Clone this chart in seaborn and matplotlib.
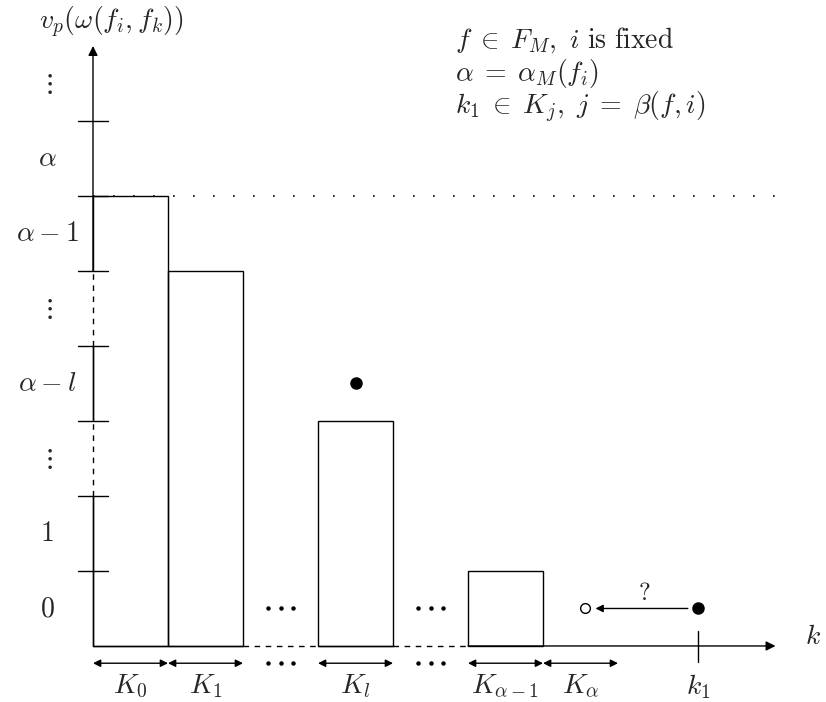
import matplotlib
matplotlib.use("Agg")
import matplotlib.pyplot as plt
import seaborn as sns
import pandas as pd

# bars: block centres (in units of one block) and valuation levels
bar_x = [0.5, 1.5, 3.5, 5.5]
bar_h = [6, 5, 3, 1]

# y axis level labels (placed between tick marks)
level_pos = [0.5, 1.5, 2.5, 3.5, 4.5, 5.5, 6.5, 7.5]
level_labels = [r"$0$", r"$1$", r"$\vdots$", r"$\alpha-l$", r"$\vdots$",
                r"$\alpha-1$", r"$\alpha$", r"$\vdots$"]
tick_levels = [1, 2, 3, 4, 5, 6, 7]

# block intervals under the k axis
block_start = [0, 1, 3, 5, 6]
block_end = [1, 2, 4, 6, 7]
block_labels = [r"$K_0$", r"$K_1$", r"$K_l$", r"$K_{\alpha-1}$", r"$K_\alpha$"]
gap_centres = [2.5, 4.5]

# points
dot_filled = [(3.5, 3.5), (8.07, 0.5)]
dot_open = (6.56, 0.5)
k1_x = 8.07
alpha_level = 6

notes = [r"$f\;\in\;F_M,\ i\ \mathrm{is\ fixed}$",
         r"$\alpha\;=\;\alpha_M(f_i)$",
         r"$k_1\;\in\;K_j,\ j\;=\;\beta(f,i)$"]

sns.set_theme(style="white")
plt.rcParams["mathtext.fontset"] = "cm"

fig = plt.figure(figsize=(8.26, 7.02), dpi=100)
ax = fig.add_axes([0, 0, 1, 1])

df = pd.DataFrame({"k": bar_x, "v": bar_h})
sns.barplot(data=df, x="k", y="v", native_scale=True, width=1, fill=False,
            color="black", linewidth=1, ax=ax)

lw = 1
dash = (0, (4, 4))
# x axis: solid / dashed pieces, arrow at the end
ax.plot([0, 2], [0, 0], color="black", lw=lw)
ax.plot([2, 3], [0, 0], color="black", lw=lw, ls=dash)
ax.plot([3, 4], [0, 0], color="black", lw=lw)
ax.plot([4, 5], [0, 0], color="black", lw=lw, ls=dash)
ax.annotate("", xy=(9.1, 0), xytext=(5, 0),
            arrowprops=dict(arrowstyle="-|>", color="black", lw=lw,
                            mutation_scale=14, shrinkA=0, shrinkB=0))
# y axis (the dashed parts hide the left edge of the first bar)
ax.plot([0, 0], [0, 2], color="black", lw=lw)
for a, b in [(2, 3), (4, 5)]:
    ax.plot([0, 0], [a + 0.02, b - 0.02], color="white", lw=2.5, zorder=4)
    ax.plot([0, 0], [a, b], color="black", lw=lw, ls=dash, zorder=5)
ax.plot([0, 0], [3, 4], color="black", lw=lw)
ax.annotate("", xy=(0, 8.0), xytext=(0, 5),
            arrowprops=dict(arrowstyle="-|>", color="black", lw=lw,
                            mutation_scale=14, shrinkA=0, shrinkB=0))
for t in tick_levels:
    ax.plot([-0.2, 0.2], [t, t], color="black", lw=lw, zorder=6)
for p, lab in zip(level_pos, level_labels):
    ax.text(-0.61, p, lab, ha="center", va="center", fontsize=20)

# alpha level dotted line
ax.plot([0, 9.3], [alpha_level, alpha_level], color="black", lw=1.2,
        ls=(0, (1, 11)))

# block intervals
for s, e, lab in zip(block_start, block_end, block_labels):
    ax.annotate("", xy=(e, -0.23), xytext=(s, -0.23),
                arrowprops=dict(arrowstyle="<|-|>", color="black", lw=lw,
                                mutation_scale=11, shrinkA=0, shrinkB=0))
    ax.text((s + e) / 2, -0.54, lab, ha="center", va="center", fontsize=20)
for g in gap_centres:
    for yy in (0.5, -0.23):
        ax.plot([g - 0.17, g, g + 0.17], [yy, yy, yy], "o", color="black", ms=2.2)

# points and the '?' arrow
for px, py in dot_filled:
    ax.plot(px, py, "o", color="black", ms=8)
ax.plot(*dot_open, "o", mfc="white", mec="black", ms=7, mew=1)
ax.annotate("", xy=(dot_open[0] + 0.14, 0.5), xytext=(dot_filled[1][0] - 0.14, 0.5),
            arrowprops=dict(arrowstyle="-|>", color="black", lw=lw,
                            mutation_scale=11, shrinkA=0, shrinkB=0))
ax.text(7.35, 0.7, r"$?$", ha="center", va="center", fontsize=18)

# k1 tick
ax.plot([k1_x, k1_x], [-0.22, 0.2], color="black", lw=lw)
ax.text(k1_x, -0.54, r"$k_1$", ha="center", va="center", fontsize=20)

# axis labels
ax.text(9.6, 0.13, r"$k$", ha="center", va="center", fontsize=20)
ax.text(0.25, 8.32, r"$v_p(\omega(f_i, f_k))$", ha="center", va="center", fontsize=20)

for i, n in enumerate(notes):
    ax.text(4.83, 8.08 - 0.45 * i, n, ha="left", va="center", fontsize=20)

ax.set_xlim(-1.24, 9.773)
ax.set_ylim(-0.747, 8.613)
ax.axis("off")
fig.savefig("out.png", dpi=100)
